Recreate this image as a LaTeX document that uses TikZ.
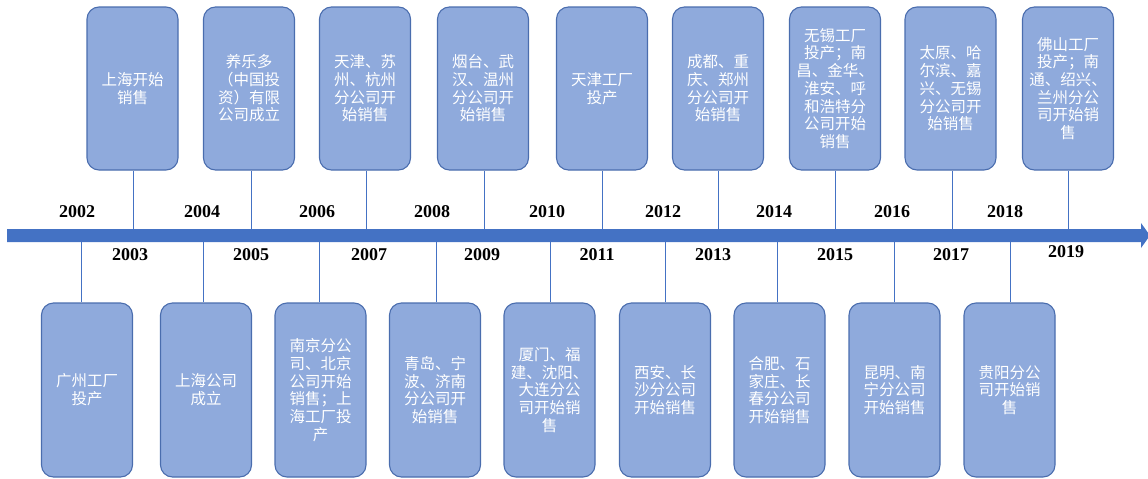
\documentclass[tikz,border=0pt]{standalone}
\usepackage{fontspec}
\newfontfamily\cjk{Noto Sans CJK SC}
\newfontfamily\yearfont{Liberation Serif}
\definecolor{barblue}{HTML}{4472C4}
\definecolor{boxfill}{HTML}{8FAADC}
\definecolor{boxline}{HTML}{4A6DAE}
\tikzset{
  evbox/.style={draw=boxline, line width=1.1pt, fill=boxfill, rounded corners=12pt,
    minimum width=91pt, inner sep=0pt, text=white, align=center,
    font=\cjk\fontsize{15.5}{17.7}\selectfont},
  topbox/.style={evbox, minimum height=163pt},
  botbox/.style={evbox, minimum height=174pt},
  conn/.style={draw=barblue, line width=0.9pt},
  yearlbl/.style={font=\yearfont\bfseries\fontsize{18}{20}\selectfont, text=black, inner sep=0pt}
}
\begin{document}
\begin{tikzpicture}[x=1pt,y=-1pt]
\useasboundingbox (0,0) rectangle (1148,479);
% timeline bar with arrow head
\fill[barblue] (7,229) -- (1141,229) -- (1141,223) -- (1150,235.5) -- (1141,248) -- (1141,242) -- (7,242) -- cycle;
% top boxes
\node[topbox] (t1) at (132.5,88.5) {上海开始\\销售};
\node[topbox] (t2) at (249,88.5) {养乐多\\（中国投\\资）有限\\公司成立};
\node[topbox] (t3) at (365,88.5) {天津、苏\\州、杭州\\分公司开\\始销售};
\node[topbox] (t4) at (483,88.5) {烟台、武\\汉、温州\\分公司开\\始销售};
\node[topbox] (t5) at (602,88.5) {天津工厂\\投产};
\node[topbox] (t6) at (718,88.5) {成都、重\\庆、郑州\\分公司开\\始销售};
\node[topbox] (t7) at (835,88.5) {无锡工厂\\投产；南\\昌、金华、\\淮安、呼\\和浩特分\\公司开始\\销售};
\node[topbox] (t8) at (950.5,88.5) {太原、哈\\尔滨、嘉\\兴、无锡\\分公司开\\始销售};
\node[topbox] (t9) at (1068,88.5) {佛山工厂\\投产；南\\通、绍兴、\\兰州分公\\司开始销\\售};
% bottom boxes
\node[botbox] (b1) at (87,390) {广州工厂\\投产};
\node[botbox] (b2) at (206,390) {上海公司\\成立};
\node[botbox] (b3) at (320.5,390) {南京分公\\司、北京\\公司开始\\销售；上\\海工厂投\\产};
\node[botbox] (b4) at (435,390) {青岛、宁\\波、济南\\分公司开\\始销售};
\node[botbox] (b5) at (549.5,390) {厦门、福\\建、沈阳、\\大连分公\\司开始销\\售};
\node[botbox] (b6) at (665,390) {西安、长\\沙分公司\\开始销售};
\node[botbox] (b7) at (779.5,390) {合肥、石\\家庄、长\\春分公司\\开始销售};
\node[botbox] (b8) at (894.5,390) {昆明、南\\宁分公司\\开始销售};
\node[botbox] (b9) at (1009.5,390) {贵阳分公\\司开始销\\售};
% connector anchor points on the bar
\foreach \i/\x in {1/133,2/251,3/366,4/484,5/602,6/718,7/835,8/952,9/1068}{
  \coordinate (tc\i) at (\x,229.5);
  \draw[conn] (tc\i) -- (tc\i |- t\i.south);
}
\foreach \i/\x in {1/81,2/203,3/319,4/436,5/550,6/665,7/777,8/894,9/1010}{
  \coordinate (bc\i) at (\x,241.5);
  \draw[conn] (bc\i) -- (bc\i |- b\i.north);
}
% year labels
\node[yearlbl] (y2002) at (77,212) {2002};
\node[yearlbl] (y2004) at (202,212) {2004};
\node[yearlbl] (y2006) at (317,212) {2006};
\node[yearlbl] (y2008) at (432,212) {2008};
\node[yearlbl] (y2010) at (547,212) {2010};
\node[yearlbl] (y2012) at (663,212) {2012};
\node[yearlbl] (y2014) at (774,212) {2014};
\node[yearlbl] (y2016) at (892,212) {2016};
\node[yearlbl] (y2018) at (1005,212) {2018};
\node[yearlbl] (y2003) at (130,255) {2003};
\node[yearlbl] (y2005) at (251,255) {2005};
\node[yearlbl] (y2007) at (369,255) {2007};
\node[yearlbl] (y2009) at (482,255) {2009};
\node[yearlbl] (y2011) at (597,255) {2011};
\node[yearlbl] (y2013) at (713,255) {2013};
\node[yearlbl] (y2015) at (835,255) {2015};
\node[yearlbl] (y2017) at (951,255) {2017};
\node[yearlbl] (y2019) at (1066,252) {2019};
\end{tikzpicture}
\end{document}
